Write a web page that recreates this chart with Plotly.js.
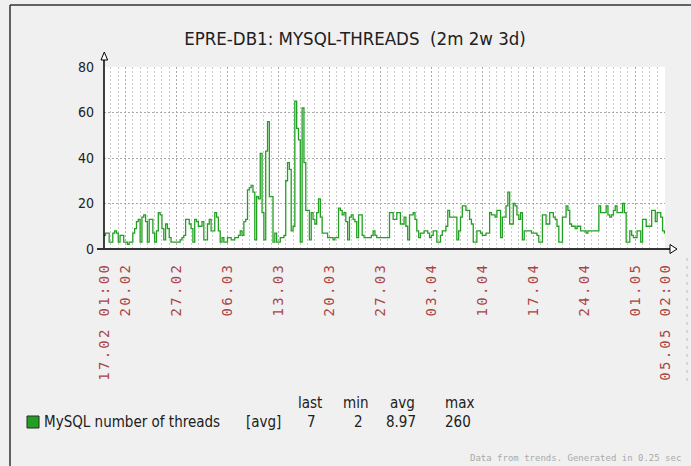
<!DOCTYPE html>
<html><head><meta charset="utf-8">
<script src="https://cdn.plot.ly/plotly-3.0.1.min.js"></script>
<style>
html,body{margin:0;padding:0;background:#f0f0f0;}
#chart{width:691px;height:466px;}
.xtick text{letter-spacing:2.3px;}
</style></head><body><div id="chart"></div>
<script>
// ---- data (6-hour samples per day) ----
const startDay = '2015-02-17';
const rangeStart = '2015-02-17 01:00';
const rangeEnd = '2015-05-05 02:00';
const threadsPerDay = [
  [6,7,7,3],[3,7,8,7],[3,6,6,3],[3,2,3,3],[7,9,12,13],[3,14,15,12],[3,13,13,7],
  [3,8,16,15],[9,4,11,9],[5,3,3,3],[3,3,4,5],[6,13,13,11],[9,3,13,12],[10,10,12,4],
  [4,11,13,8],[8,16,14,8],[3,5,3,3],[5,5,4,4],[5,5,6,8],[6,12,13,26],[27,28,25,4],
  [23,22,42,16],[4,43,56,23],[23,3,7,3],[3,5,5,6],[30,38,35,8],[10,65,53,48],[3,62,38,17],
  [17,4,16,13],[11,16,22,14],[7,7,7,5],[5,5,4,5],[5,18,17,15],[16,12,4,14],[15,13,12,5],
  [15,15,6,5],[5,5,5,6],[8,6,5,5],[5,5,5,5],[5,16,16,13],[13,16,16,11],[11,14,10,4],
  [15,15,16,13],[8,5,7,7],[8,8,7,5],[6,8,8,3],[3,6,8,8],[10,17,14,14],[14,14,4,8],
  [14,19,19,17],[17,13,11,3],[3,8,8,7],[6,6,7,7],[16,15,15,14],[17,17,5,14],[14,19,25,11],
  [11,20,19,15],[13,16,4,8],[8,8,8,7],[7,7,6,3],[3,15,15,11],[11,16,16,14],[13,10,3,3],
  [14,14,19,17],[11,10,10,9],[10,10,8,8],[8,7,8,8],[8,8,8,8],[19,16,16,16],[19,15,14,15],
  [17,19,16,16],[16,20,16,3],[3,8,6,5],[5,8,8,3],[13,13,10,10],[10,17,17,12],[16,16,14,8]
];
const lastValue = 7;
const tickDates = ['2015-02-17 01:00','2015-02-20','2015-02-27','2015-03-06','2015-03-13','2015-03-20',
  '2015-03-27','2015-04-03','2015-04-10','2015-04-17','2015-04-24','2015-05-01','2015-05-05 02:00'];
const tickLabels = ['17.02 01:00','20.02','27.02','06.03','13.03','20.03','27.03','03.04','10.04',
  '17.04','24.04','01.05','05.05 02:00'];
const yTicks = [0,20,40,60,80];
const titleText = 'EPRE-DB1: MYSQL-THREADS\u00a0 (2m 2w 3d)';
const legendName = 'MySQL number of threads';
const legendFunc = '[avg]';
const statHeaders = ['last','min','avg','max'];
const statValues = ['7','2','8.97','260'];
const footer = 'Data from trends. Generated in 0.25 sec';

// ---- build series ----
const HOUR = 3600000;
const t0 = Date.UTC(2015,1,17);
const fmt = ms => new Date(ms).toISOString().slice(0,16).replace('T',' ');
const xs = [], ys = [];
threadsPerDay.forEach((day,d) => day.forEach((v,q) => { xs.push(fmt(t0 + (d*24 + q*6)*HOUR)); ys.push(v); }));
xs.push(fmt(t0 + threadsPerDay.length*24*HOUR)); ys.push(lastValue);
xs.push(rangeEnd); ys.push(lastValue);

// ---- layout helpers (pixel -> paper) ----
const L = 104, R = 665, T = 67, B = 249;
const px = v => (v - L) / (R - L);
const py = v => (B - v) / (B - T);
const SANS = "'DejaVu Sans Condensed', 'DejaVu Sans', sans-serif";
const MONO = "'DejaVu Sans Mono', 'Liberation Mono', monospace";
const TXT = '#202020';
const GREEN = '#22a022';

const shapes = [
  // outer frame
  {type:'line', xref:'paper', yref:'paper', x0:px(10), x1:px(10), y0:py(5), y1:py(470), line:{color:'#333', width:1.5}},
  {type:'line', xref:'paper', yref:'paper', x0:px(10), x1:px(695), y0:py(5), y1:py(5), line:{color:'#333', width:1.5}},
  {type:'line', xref:'paper', yref:'paper', x0:px(687), x1:px(687), y0:py(258), y1:py(385), line:{color:'#bbbbbb', width:1, dash:'3px,5px'}},
  // y axis with arrow
  {type:'line', xref:'paper', yref:'paper', x0:0, x1:0, y0:0, y1:py(59), line:{color:'#000', width:1.5}},
  {type:'path', xref:'paper', yref:'paper', path:`M${px(104.3)},${py(52)} L${px(101)},${py(60)} L${px(107.6)},${py(60)} Z`, fillcolor:'#ffffff', line:{color:'#000', width:1}},
  // x axis with arrow
  {type:'line', xref:'paper', yref:'paper', x0:px(97), x1:px(671), y0:0, y1:0, line:{color:'#333', width:2}},
  {type:'path', xref:'paper', yref:'paper', path:`M${px(677)},${py(249)} L${px(670)},${py(244.5)} L${px(670)},${py(253.5)} Z`, fillcolor:'#ffffff', line:{color:'#000', width:1}},
  // legend swatch
  {type:'rect', xref:'paper', yref:'paper', x0:px(27), x1:px(39), y0:py(416), y1:py(428), fillcolor:GREEN, line:{color:'#2a2a2a', width:1}}
];

const ann = (text, x, y, anchor, font) => ({text, x:px(x), y:py(y), xref:'paper', yref:'paper', showarrow:false,
  xanchor:anchor, yanchor:'middle', borderpad:0, font:Object.assign({family:SANS, size:15, color:TXT}, font||{})});
const headerX = [310, 355, 402.5, 459];
const valueX = [311, 358, 401, 457.5];
const annotations = [
  ann(legendName, 43, 422, 'left'),
  ann(legendFunc, 245, 422, 'left'),
  ...statHeaders.map((h,i) => ann(h, headerX[i], 403, 'center')),
  ...statValues.map((v,i) => ann(v, valueX[i], 422, 'center')),
  ann(footer, 682, 458, 'right', {family:MONO, size:9, color:'#aaaaaa'})
];

const trace = {x:xs, y:ys, type:'scatter', mode:'lines', line:{color:GREEN, width:1.3, shape:'hv'}, hoverinfo:'skip'};

const layout = {
  width:691, height:466, margin:{l:L, r:691-R, t:T, b:466-B, pad:0},
  paper_bgcolor:'#f0f0f0', plot_bgcolor:'#ffffff', showlegend:false,
  font:{family:SANS, size:14, color:TXT},
  title:{text:titleText, font:{family:SANS, size:18.5, color:TXT}, xref:'container', yref:'container',
         x:355/691, xanchor:'center', y:1-39/466, yanchor:'middle'},
  xaxis:{type:'date', range:[rangeStart, rangeEnd], tickmode:'array', tickvals:tickDates, ticktext:tickLabels,
         tickangle:-90, tickfont:{family:MONO, size:14, color:'#AA4444'}, ticks:'', ticklabelstandoff:10,
         showgrid:true, gridcolor:'#aaaaaa', griddash:'2px,2px', gridwidth:1, zeroline:false, showline:false,
         minor:{tickmode:'linear', tick0:startDay, dtick:86400000, showgrid:true, gridcolor:'#cccccc', griddash:'2px,2px', gridwidth:1, ticks:''}},
  yaxis:{range:[0,80], tickmode:'array', tickvals:yTicks, showgrid:true, gridcolor:'#aaaaaa', griddash:'2px,2px',
         zeroline:false, showline:false, ticks:'', ticklabelstandoff:9, tickfont:{family:SANS, size:14, color:TXT}},
  shapes, annotations
};

Plotly.newPlot('chart', [trace], layout, {staticPlot:true, displayModeBar:false});
</script></body></html>
